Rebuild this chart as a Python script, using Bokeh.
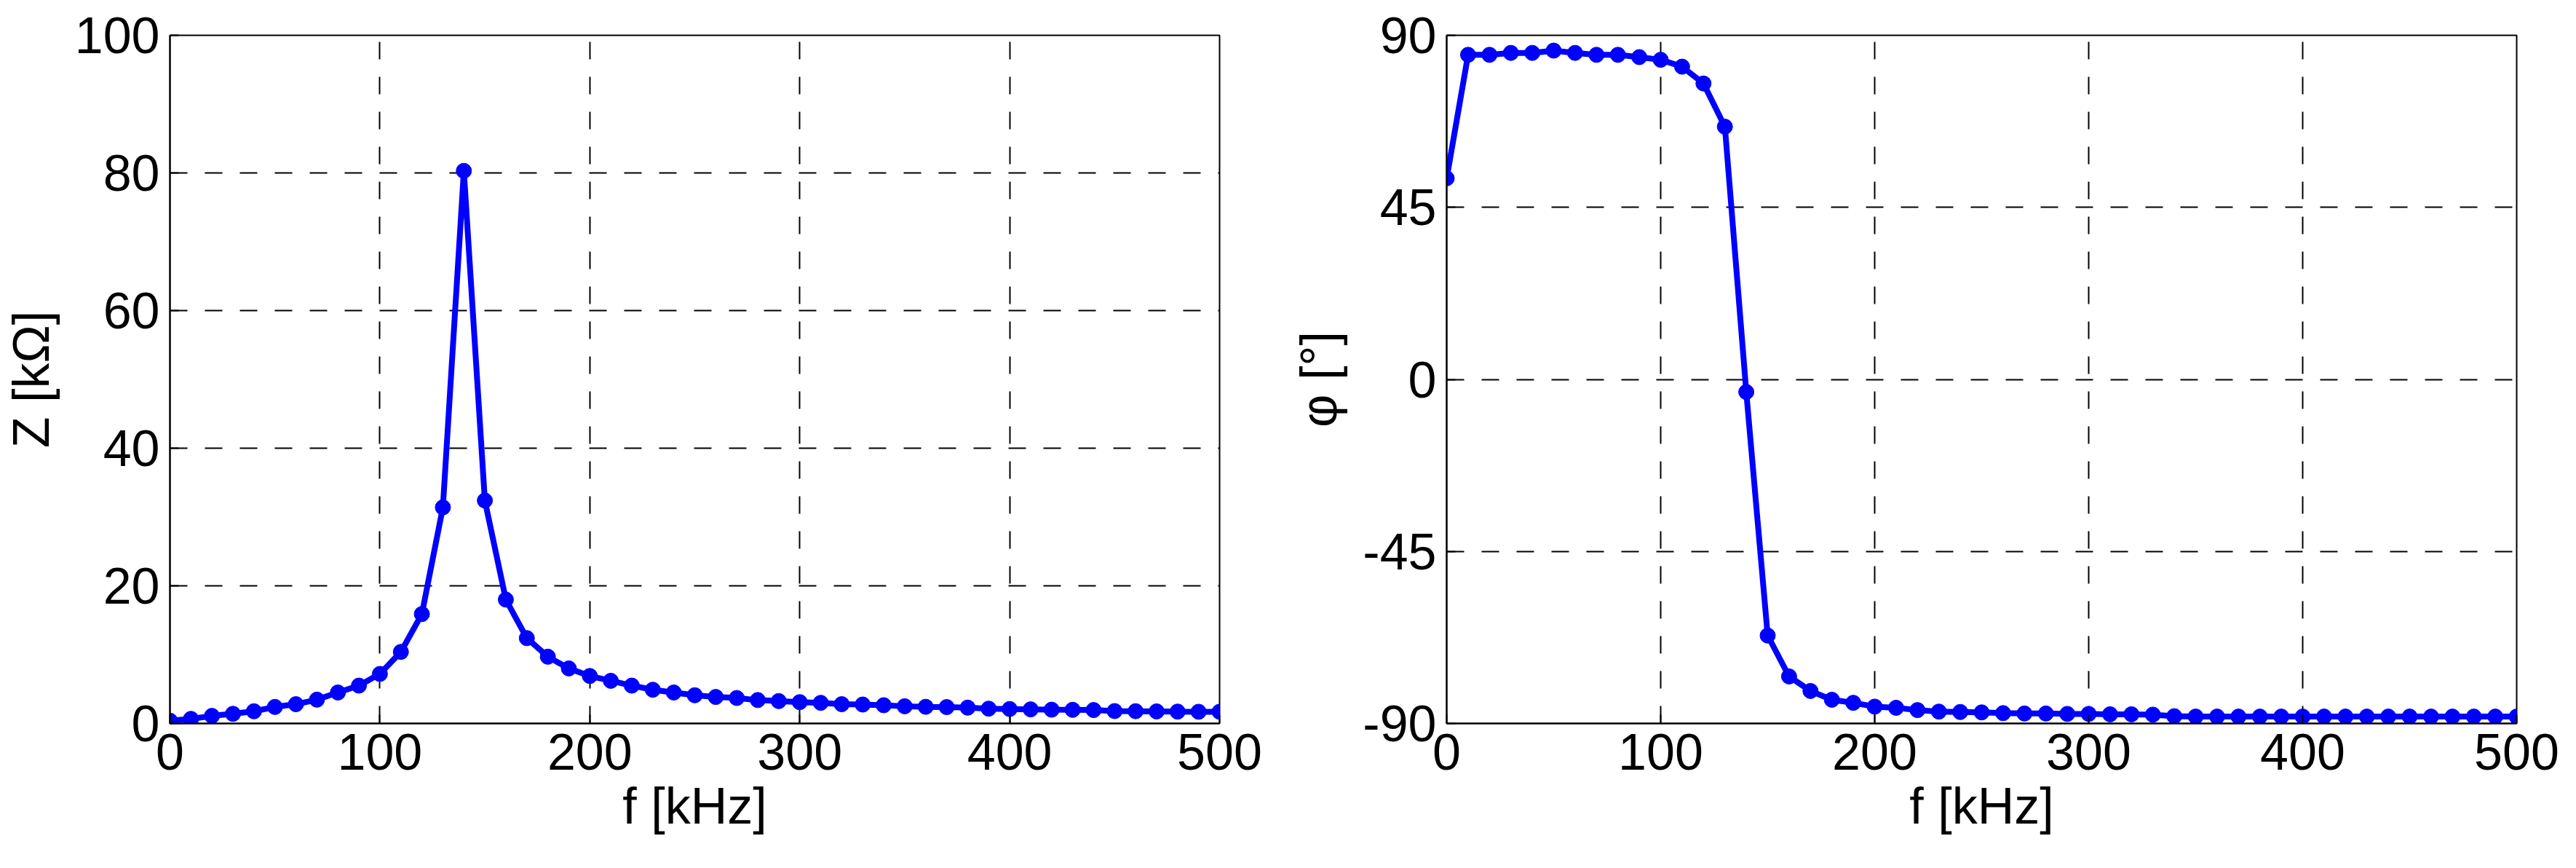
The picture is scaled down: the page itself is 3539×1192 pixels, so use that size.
from bokeh.plotting import figure
from bokeh.layouts import row
from bokeh.models import FixedTicker, Range1d
from bokeh.embed import file_html
from bokeh.resources import INLINE

# ---------------- data ----------------
freq_khz = list(range(0, 501, 10))

impedance_kohm = [
    0.4, 0.67, 1.1, 1.4, 1.77, 2.4, 2.8, 3.46, 4.5, 5.5,
    7.2, 10.4, 15.9, 31.4, 80.3, 32.4, 18.0, 12.4, 9.7, 8.0,
    6.9, 6.2, 5.5, 4.9, 4.5, 4.1, 3.85, 3.7, 3.4, 3.25,
    3.1, 3.0, 2.8, 2.75, 2.65, 2.5, 2.42, 2.38, 2.3, 2.15,
    2.1, 2.05, 2.0, 1.98, 1.95, 1.8, 1.78, 1.75, 1.72, 1.7,
    1.7,
]

phase_deg = [
    52.6, 84.9, 84.9, 85.4, 85.4, 86.0, 85.4, 84.9, 84.9, 84.3,
    83.6, 81.8, 77.4, 66.1, -3.3, -67.0, -77.7, -81.5, -83.8, -84.6,
    -85.6, -85.9, -86.5, -86.9, -87.0, -87.1, -87.3, -87.4, -87.4, -87.5,
    -87.5, -87.6, -87.6, -87.7, -88.1, -88.2, -88.2, -88.2, -88.2, -88.2,
    -88.2, -88.2, -88.2, -88.2, -88.2, -88.2, -88.2, -88.2, -88.2, -88.2,
    -88.2,
]

x_ticks = [0, 100, 200, 300, 400, 500]
z_ticks = [0, 20, 40, 60, 80, 100]
phi_ticks = [-90, -45, 0, 45, 90]
phi_tick_labels = {-90: "-90", -45: "-45", 0: "0", 45: "45", 90: "90"}

FONT = "Liberation Sans"
FS = "70px"
BLUE = "#0000FF"


def style(p, yticks, xlabel, ylabel):
    p.xaxis.ticker = FixedTicker(ticks=x_ticks)
    p.yaxis.ticker = FixedTicker(ticks=yticks)
    for ax in (p.xaxis[0], p.yaxis[0]):
        ax.major_label_text_font = FONT
        ax.major_label_text_font_size = FS
        ax.major_label_text_color = "black"
        ax.axis_label_text_font = FONT
        ax.axis_label_text_font_size = FS
        ax.axis_label_text_font_style = "normal"
        ax.axis_label_text_color = "black"
        ax.axis_line_color = "black"
        ax.axis_line_width = 2
        ax.major_tick_in = 12
        ax.major_tick_out = 0
        ax.major_tick_line_width = 2
        ax.minor_tick_line_color = None
        ax.major_label_standoff = 14
    p.xaxis.axis_label = xlabel
    p.yaxis.axis_label = ylabel
    p.xaxis.axis_label_standoff = 8
    p.yaxis.axis_label_standoff = 18
    for g in (p.xgrid[0], p.ygrid[0]):
        g.grid_line_color = "black"
        g.grid_line_dash = "24 24"
        g.grid_line_width = 2
    p.outline_line_color = "black"
    p.outline_line_width = 2
    p.outline_line_alpha = 1.0
    p.background_fill_color = "white"
    p.border_fill_color = "white"


# ---------------- left: impedance ----------------
p1 = figure(width=1765, height=1176, output_backend="svg", toolbar_location=None,
            x_range=Range1d(0, 500), y_range=Range1d(0, 100),
            min_border_left=228, min_border_right=90,
            min_border_top=48, min_border_bottom=183)
style(p1, z_ticks, "f [kHz]", "Z [kΩ]")
p1.line(freq_khz, impedance_kohm, line_color=BLUE, line_width=8)
p1.scatter(freq_khz, impedance_kohm, size=21, fill_color=BLUE, line_color=BLUE)

# ---------------- right: phase ----------------
p2 = figure(width=1758, height=1176, output_backend="svg", toolbar_location=None,
            x_range=Range1d(0, 500), y_range=Range1d(-90, 90),
            min_border_left=222, min_border_right=66,
            min_border_top=33, min_border_bottom=183)
style(p2, phi_ticks, "f [kHz]", "φ [°]")
p2.yaxis.major_label_overrides = phi_tick_labels
p2.line(freq_khz, phase_deg, line_color=BLUE, line_width=8)
p2.scatter(freq_khz, phase_deg, size=21, fill_color=BLUE, line_color=BLUE)

layout = row(p1, p2)
open("out.html", "w").write(file_html(layout, INLINE))
